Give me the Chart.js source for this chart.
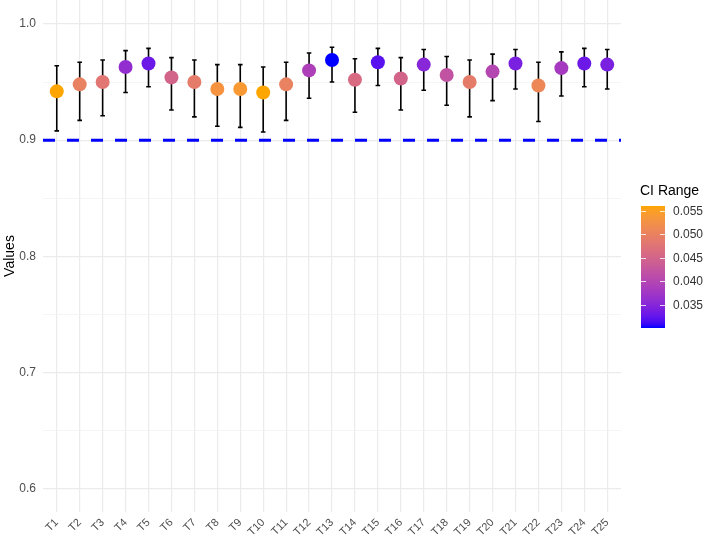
<!DOCTYPE html>
<html>
<head>
<meta charset="utf-8">
<script src="https://cdn.jsdelivr.net/npm/chart.js@4.4.1/dist/chart.umd.min.js"></script>
<style>
  html, body { margin: 0; padding: 0; background: #fff; }
  #wrap { width: 708px; height: 540px; }
</style>
</head>
<body>
<div id="wrap"><canvas id="chart" width="708" height="540"></canvas></div>
<script>
const categories = ['T1','T2','T3','T4','T5','T6','T7','T8','T9','T10','T11','T12','T13',
  'T14','T15','T16','T17','T18','T19','T20','T21','T22','T23','T24','T25'];
const values = [0.942, 0.948, 0.950, 0.963, 0.966, 0.954, 0.950, 0.944, 0.944, 0.941, 0.948, 0.960, 0.969,
  0.952, 0.967, 0.953, 0.965, 0.956, 0.950, 0.959, 0.966, 0.947, 0.962, 0.966, 0.965];
const lower = [0.908, 0.917, 0.921, 0.941, 0.946, 0.926, 0.920, 0.912, 0.911, 0.907, 0.917, 0.936, 0.950,
  0.924, 0.947, 0.926, 0.943, 0.930, 0.920, 0.934, 0.944, 0.916, 0.938, 0.946, 0.944];
const upper = [0.964, 0.967, 0.969, 0.977, 0.979, 0.971, 0.969, 0.965, 0.965, 0.963, 0.967, 0.975, 0.980,
  0.970, 0.979, 0.971, 0.978, 0.972, 0.969, 0.974, 0.978, 0.967, 0.976, 0.979, 0.978];
const threshold = 0.9;
const yMajor = [0.6, 0.7, 0.8, 0.9, 1.0];
const yMinor = [0.65, 0.75, 0.85, 0.95];
const legendTicks = [0.035, 0.040, 0.045, 0.050, 0.055];

const ciRange = upper.map((u, i) => u - lower[i]);
const ciMin = Math.min(...ciRange);
const ciMax = Math.max(...ciRange);

// low blue -> high orange, interpolated in Lab like ggplot
const lowColor = '#0000FF';
const highColor = '#FFA500';

function hexToRgb(h) {
  return [1, 3, 5].map(k => parseInt(h.substr(k, 2), 16));
}
function toLab(rgb) {
  const lin = rgb.map(c => { c /= 255; return c <= 0.04045 ? c / 12.92 : Math.pow((c + 0.055) / 1.055, 2.4); });
  const X = (lin[0] * 0.4124 + lin[1] * 0.3576 + lin[2] * 0.1805) / 0.95047;
  const Y = (lin[0] * 0.2126 + lin[1] * 0.7152 + lin[2] * 0.0722);
  const Z = (lin[0] * 0.0193 + lin[1] * 0.1192 + lin[2] * 0.9505) / 1.08883;
  const f = t => t > 0.008856 ? Math.cbrt(t) : 7.787 * t + 16 / 116;
  return [116 * f(Y) - 16, 500 * (f(X) - f(Y)), 200 * (f(Y) - f(Z))];
}
function fromLab(lab) {
  const fy = (lab[0] + 16) / 116, fx = fy + lab[1] / 500, fz = fy - lab[2] / 200;
  const inv = t => t * t * t > 0.008856 ? t * t * t : (t - 16 / 116) / 7.787;
  const X = inv(fx) * 0.95047, Y = inv(fy), Z = inv(fz) * 1.08883;
  const lin = [
    X * 3.2406 + Y * -1.5372 + Z * -0.4986,
    X * -0.9689 + Y * 1.8758 + Z * 0.0415,
    X * 0.0557 + Y * -0.2040 + Z * 1.0570
  ];
  return lin.map(c => {
    c = c <= 0.0031308 ? 12.92 * c : 1.055 * Math.pow(c, 1 / 2.4) - 0.055;
    return Math.round(Math.max(0, Math.min(1, c)) * 255);
  });
}
const labLow = toLab(hexToRgb(lowColor));
const labHigh = toLab(hexToRgb(highColor));

function colorAt(t) {
  t = Math.max(0, Math.min(1, t));
  const c = fromLab(labLow.map((v, k) => v + (labHigh[k] - v) * t));
  return 'rgb(' + c.join(',') + ')';
}
function colorFor(v) { return colorAt((v - ciMin) / (ciMax - ciMin)); }

const pointColors = ciRange.map(colorFor);

const errorBars = {
  id: 'errorBars',
  beforeDatasetsDraw(chart) {
    const { ctx, scales: { x, y } } = chart;
    ctx.save();
    ctx.strokeStyle = '#000';
    ctx.lineWidth = 1.6;
    const hw = 0.1 * (x.getPixelForValue(2) - x.getPixelForValue(1));
    categories.forEach((c, i) => {
      const px = x.getPixelForValue(i + 1);
      const top = y.getPixelForValue(upper[i]);
      const bot = y.getPixelForValue(lower[i]);
      ctx.beginPath();
      ctx.moveTo(px, top); ctx.lineTo(px, bot);
      ctx.moveTo(px - hw, top); ctx.lineTo(px + hw, top);
      ctx.moveTo(px - hw, bot); ctx.lineTo(px + hw, bot);
      ctx.stroke();
    });
    // threshold line
    const ty = y.getPixelForValue(threshold);
    const area = chart.chartArea;
    ctx.strokeStyle = '#0000FF';
    ctx.lineWidth = 3;
    ctx.setLineDash([12, 12]);
    ctx.beginPath();
    ctx.moveTo(area.left, ty); ctx.lineTo(area.right, ty);
    ctx.stroke();
    ctx.restore();
  }
};

const colorBar = {
  id: 'colorBar',
  afterDraw(chart) {
    const ctx = chart.ctx;
    const bx = 641, bw = 24, top = 206, bot = 328;
    const vy = v => bot - (v - ciMin) / (ciMax - ciMin) * (bot - top);
    ctx.save();
    const g = ctx.createLinearGradient(0, bot, 0, top);
    for (let i = 0; i <= 30; i++) g.addColorStop(i / 30, colorAt(i / 30));
    ctx.fillStyle = g;
    ctx.fillRect(bx, top, bw, bot - top);
    ctx.fillStyle = '#000';
    ctx.font = '14px "Liberation Sans", Arial, sans-serif';
    ctx.textBaseline = 'middle';
    ctx.fillText('CI Range', 640, 191);
    ctx.font = '12px "Liberation Sans", Arial, sans-serif';
    ctx.fillStyle = '#333';
    ctx.strokeStyle = 'rgba(255,255,255,0.8)';
    ctx.lineWidth = 1;
    legendTicks.forEach(v => {
      const py = Math.round(vy(v)) + 0.5;
      ctx.beginPath();
      ctx.moveTo(bx, py); ctx.lineTo(bx + 5, py);
      ctx.moveTo(bx + bw - 5, py); ctx.lineTo(bx + bw, py);
      ctx.stroke();
      ctx.fillText(v.toFixed(3), 673, py);
    });
    ctx.restore();
  }
};

new Chart(document.getElementById('chart'), {
  type: 'scatter',
  data: {
    datasets: [{
      data: values.map((v, i) => ({ x: i + 1, y: v })),
      pointBackgroundColor: pointColors,
      pointBorderWidth: 0,
      pointRadius: 7,
      pointHoverRadius: 7
    }]
  },
  options: {
    responsive: false,
    animation: false,
    layout: { autoPadding: false, padding: { left: 0, right: 87, top: 0, bottom: 0 } },
    plugins: { legend: { display: false }, tooltip: { enabled: false } },
    scales: {
      x: {
        type: 'linear',
        min: 0.4,
        max: 25.6,
        afterBuildTicks: s => { s.ticks = categories.map((c, i) => ({ value: i + 1 })); },
        afterFit: s => { s.height = 28; s.paddingLeft = 0; s.paddingRight = 0; },
        border: { display: false },
        grid: { color: '#EBEBEB', lineWidth: 1.2, drawTicks: false },
        ticks: {
          autoSkip: false,
          maxRotation: 45,
          minRotation: 45,
          padding: 4,
          color: '#4D4D4D',
          font: { family: '"Liberation Sans", Arial, sans-serif', size: 11 },
          callback: v => categories[Math.round(v) - 1]
        }
      },
      y: {
        min: 0.58,
        max: 1.0206,
        afterBuildTicks: s => {
          s.ticks = yMajor.concat(yMinor).sort((a, b) => a - b).map(v => ({ value: v }));
        },
        afterFit: s => { s.width = 43; s.paddingTop = 0; s.paddingBottom = 0; },
        border: { display: false },
        grid: {
          drawTicks: false,
          color: c => yMajor.some(m => Math.abs(m - c.tick.value) < 1e-6) ? '#EBEBEB' : '#F3F3F3',
          lineWidth: c => yMajor.some(m => Math.abs(m - c.tick.value) < 1e-6) ? 1.2 : 0.8
        },
        ticks: {
          padding: 7,
          color: '#4D4D4D',
          font: { family: '"Liberation Sans", Arial, sans-serif', size: 12 },
          callback: v => yMajor.some(m => Math.abs(m - v) < 1e-6) ? v.toFixed(1) : ''
        },
        title: {
          display: true,
          text: 'Values',
          color: '#000',
          padding: { top: 2, bottom: 0 },
          font: { family: '"Liberation Sans", Arial, sans-serif', size: 14 }
        }
      }
    }
  },
  plugins: [errorBars, colorBar]
});
</script>
</body>
</html>
